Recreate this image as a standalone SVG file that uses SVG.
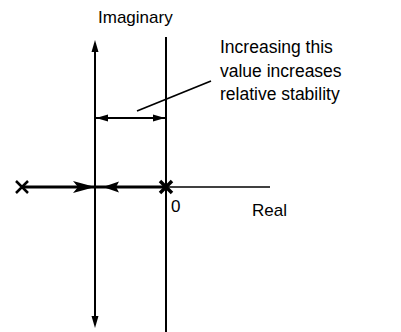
<svg xmlns="http://www.w3.org/2000/svg" width="401" height="332" viewBox="0 0 401 332">
<style>
text{font-family:"Liberation Sans",Arial,sans-serif;font-size:17px;fill:#000}
.note{font-size:17.5px}
.ln{stroke:#000;fill:none}
.ah{fill:#000;stroke:none}
</style>
<rect width="401" height="332" fill="#fff"/>
<g id="connectors">
  <line class="ln" x1="95" y1="46" x2="95" y2="322" stroke-width="2"/>
  <polygon class="ah" points="95,40 91.5,52 98.5,52"/>
  <polygon class="ah" points="95,328 91.5,316 98.5,316"/>
  <line class="ln" x1="166" y1="37" x2="166" y2="332" stroke-width="2"/>
  <line class="ln" x1="22" y1="187" x2="166" y2="187" stroke-width="3"/>
  <line class="ln" x1="166" y1="187" x2="270" y2="187" stroke-width="1.5"/>
  <polygon class="ah" points="95,187 73,181 78,187 73,193"/>
  <polygon class="ah" points="103,187 119,181.5 116,187 119,192.5"/>
  <line class="ln" x1="95" y1="118" x2="166" y2="118" stroke-width="1.8"/>
  <polygon class="ah" points="96,118 108,114.5 108,121.5"/>
  <polygon class="ah" points="165,118 153,114.5 153,121.5"/>
  <line class="ln" x1="137" y1="111" x2="211" y2="81" stroke-width="1.8"/>
</g>
<g id="pole-left">
  <path class="ln" d="M16,181 L28,193 M16,193 L28,181" stroke-width="2.5"/>
</g>
<g id="pole-origin">
  <path class="ln" d="M160,181 L172,193 M160,193 L172,181" stroke-width="3.5"/>
</g>
<g id="labels">
  <text x="98" y="23">Imaginary</text>
  <text class="note" x="220" y="53">Increasing this</text>
  <text class="note" x="220" y="77">value increases</text>
  <text class="note" x="220" y="100">relative stability</text>
  <text x="171" y="212">0</text>
  <text x="252" y="216">Real</text>
</g>
</svg>
